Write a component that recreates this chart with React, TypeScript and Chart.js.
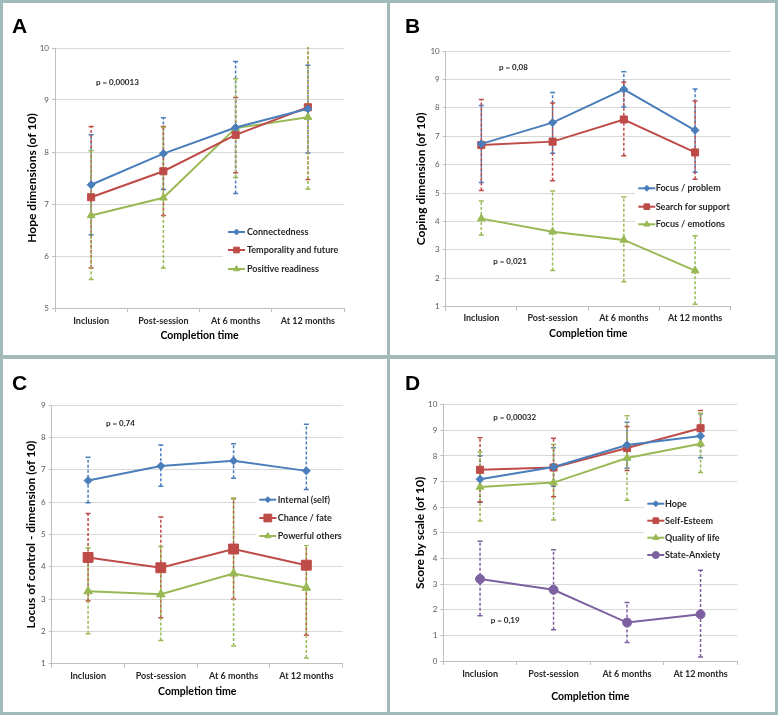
import React, { useEffect, useRef } from "react";
import { Chart, registerables } from "chart.js";

Chart.register(...registerables);

// ---------- data ----------
const categories = ["Inclusion", "Post-session", "At 6 months", "At 12 months"];

// Panel A – Hope dimensions
const hopeConnectedness = [7.37, 7.97, 8.47, 8.83];
const hopeConnectednessLow = [6.41, 7.28, 7.2, 7.98];
const hopeConnectednessHigh = [8.33, 8.66, 9.74, 9.67];
const hopeTemporality = [7.13, 7.63, 8.33, 8.86];
const hopeTemporalityLow = [5.77, 6.78, 7.6, 7.47];
const hopeTemporalityHigh = [8.49, 8.49, 9.05, 10.25];
const hopeReadiness = [6.78, 7.12, 8.46, 8.67];
const hopeReadinessLow = [5.55, 5.77, 7.51, 7.29];
const hopeReadinessHigh = [8.03, 8.47, 9.41, 10.05];

// Panel B – Coping dimensions
const copingProblem = [6.73, 7.48, 8.65, 7.21];
const copingProblemLow = [5.37, 6.4, 8.03, 5.73];
const copingProblemHigh = [8.08, 8.54, 9.27, 8.66];
const copingSupport = [6.69, 6.81, 7.59, 6.43];
const copingSupportLow = [5.09, 5.43, 6.31, 5.49];
const copingSupportHigh = [8.29, 8.17, 8.9, 8.24];
const copingEmotions = [4.1, 3.64, 3.35, 2.27];
const copingEmotionsLow = [3.52, 2.27, 1.88, 1.09];
const copingEmotionsHigh = [4.72, 5.07, 4.86, 3.5];

// Panel C – Locus of control
const locusInternal = [6.67, 7.12, 7.28, 6.97];
const locusInternalLow = [5.98, 6.49, 6.74, 6.39];
const locusInternalHigh = [7.39, 7.77, 7.81, 8.41];
const locusChance = [4.29, 3.97, 4.55, 4.05];
const locusChanceLow = [2.94, 2.42, 3.0, 1.88];
const locusChanceHigh = [5.65, 5.54, 6.11, 6.22];
const locusOthers = [3.24, 3.15, 3.79, 3.35];
const locusOthersLow = [1.93, 1.72, 1.55, 1.18];
const locusOthersHigh = [4.59, 4.63, 6.13, 4.67];

// Panel D – Score by scale
const scaleHope = [7.09, 7.57, 8.43, 8.78];
const scaleHopeLow = [6.19, 6.82, 7.52, 7.93];
const scaleHopeHigh = [8.01, 8.32, 9.32, 9.65];
const scaleEsteem = [7.46, 7.55, 8.31, 9.08];
const scaleEsteemLow = [6.2, 6.41, 7.43, 8.4];
const scaleEsteemHigh = [8.71, 8.69, 9.15, 9.77];
const scaleQuality = [6.79, 6.96, 7.92, 8.48];
const scaleQualityLow = [5.46, 5.5, 6.27, 7.35];
const scaleQualityHigh = [8.15, 8.45, 9.57, 9.67];
const scaleAnxiety = [3.2, 2.78, 1.5, 1.82];
const scaleAnxietyLow = [1.77, 1.22, 0.72, 0.16];
const scaleAnxietyHigh = [4.67, 4.34, 2.28, 3.54];

// ---------- styles ----------
const BLUE = "#4a7ebb";
const RED = "#be4b48";
const GREEN = "#98b954";
const PURPLE = "#7d60a0";
const FONT = "Lato, 'Open Sans', sans-serif";
const TEXT = "#262626";
const BORDER = "#a3baba";

type SeriesDef = {
  label: string;
  values: number[];
  low: number[];
  high: number[];
  color: string;
  style: string;
  radius: number;
  legendRadius: number;
};

type PanelDef = {
  letter: string;
  letterX: number;
  letterBase: number;
  left: number;
  top: number;
  width: number;
  height: number;
  plotLeft: number;
  plotRight: number;
  plotTop: number;
  plotBottom: number;
  yTitleX: number;
  xLabelsY: number;
  xTitleY: number;
  yMin: number;
  yMax: number;
  yTitle: string;
  notes: { text: string; x: number; y: number }[];
  legend: { lineX: number; textX: number; rows: number[]; box: [number, number, number, number] };
  series: SeriesDef[];
};

const panels: PanelDef[] = [
  {
    letter: "A", letterX: 9, letterBase: 30,
    left: 3, top: 3, width: 384, height: 352,
    plotLeft: 52, plotRight: 341, plotTop: 45, plotBottom: 305,
    yTitleX: 28.7, xLabelsY: 317.7, xTitleY: 333,
    yMin: 5, yMax: 10, yTitle: "Hope dimensions (of 10)",
    notes: [{ text: "p = 0,00013", x: 93, y: 79 }],
    legend: { lineX: 225, textX: 244, rows: [229, 247, 266], box: [220, 221, 122, 52] },
    series: [
      { label: "Connectedness", values: hopeConnectedness, low: hopeConnectednessLow, high: hopeConnectednessHigh, color: BLUE, style: "rectRot", radius: 4, legendRadius: 3 },
      { label: "Temporality and future", values: hopeTemporality, low: hopeTemporalityLow, high: hopeTemporalityHigh, color: RED, style: "rect", radius: 5, legendRadius: 4 },
      { label: "Positive readiness", values: hopeReadiness, low: hopeReadinessLow, high: hopeReadinessHigh, color: GREEN, style: "triangle", radius: 4.5, legendRadius: 3.5 },
    ],
  },
  {
    letter: "B", letterX: 15, letterBase: 30,
    left: 390, top: 3, width: 385, height: 352,
    plotLeft: 55.7, plotRight: 340.7, plotTop: 48, plotBottom: 303.7,
    yTitleX: 30.7, xLabelsY: 315.3, xTitleY: 330.3,
    yMin: 1, yMax: 10, yTitle: "Coping dimension (of 10)",
    notes: [
      { text: "p = 0,08", x: 109, y: 64 },
      { text: "p = 0,021", x: 103.3, y: 258 },
    ],
    legend: { lineX: 248.3, textX: 265.7, rows: [185.3, 203.7, 221.3], box: [245, 177, 97, 52] },
    series: [
      { label: "Focus / problem", values: copingProblem, low: copingProblemLow, high: copingProblemHigh, color: BLUE, style: "rectRot", radius: 4, legendRadius: 3 },
      { label: "Search for support", values: copingSupport, low: copingSupportLow, high: copingSupportHigh, color: RED, style: "rect", radius: 5, legendRadius: 4 },
      { label: "Focus / emotions", values: copingEmotions, low: copingEmotionsLow, high: copingEmotionsHigh, color: GREEN, style: "triangle", radius: 4.5, legendRadius: 3.5 },
    ],
  },
  {
    letter: "C", letterX: 9, letterBase: 31.3,
    left: 3, top: 359, width: 384, height: 353,
    plotLeft: 48.7, plotRight: 339.7, plotTop: 46.3, plotBottom: 304.7,
    yTitleX: 28, xLabelsY: 317.3, xTitleY: 332.3,
    yMin: 1, yMax: 9, yTitle: "Locus of control - dimension (of 10)",
    notes: [{ text: "p = 0,74", x: 103, y: 64.7 }],
    legend: { lineX: 256.3, textX: 274.7, rows: [140.7, 159, 177], box: [253, 133, 87, 53] },
    series: [
      { label: "Internal (self)", values: locusInternal, low: locusInternalLow, high: locusInternalHigh, color: BLUE, style: "rectRot", radius: 4, legendRadius: 3 },
      { label: "Chance / fate", values: locusChance, low: locusChanceLow, high: locusChanceHigh, color: RED, style: "rect", radius: 7, legendRadius: 5.5 },
      { label: "Powerful others", values: locusOthers, low: locusOthersLow, high: locusOthersHigh, color: GREEN, style: "triangle", radius: 5, legendRadius: 3.5 },
    ],
  },
  {
    letter: "D", letterX: 15, letterBase: 31.3,
    left: 390, top: 359, width: 385, height: 353,
    plotLeft: 53.3, plotRight: 347.3, plotTop: 45.7, plotBottom: 302,
    yTitleX: 30, xLabelsY: 314.7, xTitleY: 337.3,
    yMin: 0, yMax: 10, yTitle: "Score by scale (of 10)",
    notes: [
      { text: "p = 0,00032", x: 103.3, y: 58 },
      { text: "p = 0,19", x: 100.7, y: 261.3 },
    ],
    legend: { lineX: 257.3, textX: 275, rows: [144.7, 161.7, 178.7, 196], box: [254, 136, 93, 68] },
    series: [
      { label: "Hope", values: scaleHope, low: scaleHopeLow, high: scaleHopeHigh, color: BLUE, style: "rectRot", radius: 4, legendRadius: 3 },
      { label: "Self-Esteem", values: scaleEsteem, low: scaleEsteemLow, high: scaleEsteemHigh, color: RED, style: "rect", radius: 5, legendRadius: 4 },
      { label: "Quality of life", values: scaleQuality, low: scaleQualityLow, high: scaleQualityHigh, color: GREEN, style: "triangle", radius: 4.5, legendRadius: 3.5 },
      { label: "State-Anxiety", values: scaleAnxiety, low: scaleAnxietyLow, high: scaleAnxietyHigh, color: PURPLE, style: "circle", radius: 4.5, legendRadius: 3.5 },
    ],
  },
];

function drawMarker(ctx: CanvasRenderingContext2D, style: string, x: number, y: number, r: number, color: string) {
  ctx.save();
  ctx.fillStyle = color;
  ctx.strokeStyle = color;
  ctx.lineWidth = 1;
  ctx.setLineDash([]);
  ctx.beginPath();
  if (style === "rectRot") {
    ctx.moveTo(x, y - r);
    ctx.lineTo(x + r, y);
    ctx.lineTo(x, y + r);
    ctx.lineTo(x - r, y);
    ctx.closePath();
  } else if (style === "rect") {
    const s = r * Math.SQRT1_2;
    ctx.rect(x - s, y - s, 2 * s, 2 * s);
  } else if (style === "triangle") {
    let a = 0;
    ctx.moveTo(x + Math.sin(a) * r, y - Math.cos(a) * r);
    a += (2 * Math.PI) / 3;
    ctx.lineTo(x + Math.sin(a) * r, y - Math.cos(a) * r);
    a += (2 * Math.PI) / 3;
    ctx.lineTo(x + Math.sin(a) * r, y - Math.cos(a) * r);
    ctx.closePath();
  } else {
    ctx.arc(x, y, r, 0, Math.PI * 2);
  }
  ctx.fill();
  ctx.stroke();
  ctx.restore();
}

function Panel({ def }: { def: PanelDef }) {
  const ref = useRef<HTMLCanvasElement>(null);

  useEffect(() => {
    const canvas = ref.current;
    if (!canvas) return;
    const tickFont = 9;
    const xTitleFont = 10.5;
    const yTitleFont = 12;
    const padLeft = 4;
    const xScaleBottom = def.xTitleY + (xTitleFont * 1.2) / 2;
    const yTitlePad = def.yTitleX - padLeft - (yTitleFont * 1.2) / 2;
    const xTickPad = def.xLabelsY - def.plotBottom - 4 - (tickFont * 1.2) / 2;

    const decor = {
      id: "decor",
      beforeDatasetsDraw(chart: any) {
        const ctx: CanvasRenderingContext2D = chart.ctx;
        const area = chart.chartArea;
        const xs = chart.scales.x;
        const ys = chart.scales.y;
        ctx.save();
        ctx.beginPath();
        ctx.rect(area.left, area.top - 1, area.right - area.left, area.bottom - area.top + 2);
        ctx.clip();
        def.series.forEach((s) => {
          s.values.forEach((_v, i) => {
            const x = xs.getPixelForValue(i);
            const yl = ys.getPixelForValue(s.low[i]);
            const yh = ys.getPixelForValue(s.high[i]);
            ctx.strokeStyle = s.color;
            ctx.lineWidth = 1.5;
            ctx.setLineDash([3, 2]);
            ctx.beginPath();
            ctx.moveTo(x, yl);
            ctx.lineTo(x, yh);
            ctx.stroke();
            ctx.setLineDash([]);
            ctx.beginPath();
            ctx.moveTo(x - 2.5, yl);
            ctx.lineTo(x + 2.5, yl);
            ctx.moveTo(x - 2.5, yh);
            ctx.lineTo(x + 2.5, yh);
            ctx.stroke();
          });
        });
        ctx.restore();
      },
      afterDatasetsDraw(chart: any) {
        const ctx: CanvasRenderingContext2D = chart.ctx;
        ctx.save();
        // legend
        const [bx, by, bw, bh] = def.legend.box;
        ctx.fillStyle = "#ffffff";
        ctx.fillRect(bx, by, bw, bh);
        ctx.font = `bold 9px ${FONT}`;
        ctx.textBaseline = "middle";
        ctx.textAlign = "left";
        def.series.forEach((s, i) => {
          const y = def.legend.rows[i];
          ctx.strokeStyle = s.color;
          ctx.lineWidth = 2;
          ctx.beginPath();
          ctx.moveTo(def.legend.lineX, y);
          ctx.lineTo(def.legend.lineX + 17, y);
          ctx.stroke();
          drawMarker(ctx, s.style, def.legend.lineX + 8.5, y, s.legendRadius, s.color);
          ctx.fillStyle = TEXT;
          ctx.fillText(s.label, def.legend.textX, y);
        });
        // notes
        ctx.font = `bold 8px ${FONT}`;
        ctx.fillStyle = TEXT;
        def.notes.forEach((n) => ctx.fillText(n.text, n.x, n.y));
        // panel letter
        ctx.font = `bold 21px 'Liberation Sans', Arial, sans-serif`;
        ctx.fillStyle = "#000000";
        ctx.textBaseline = "alphabetic";
        ctx.fillText(def.letter, def.letterX, def.letterBase);
        ctx.restore();
      },
    };

    const chart = new Chart(canvas, {
      type: "line",
      data: {
        labels: categories,
        datasets: def.series.map((s) => ({
          label: s.label,
          data: s.values,
          borderColor: s.color,
          backgroundColor: s.color,
          borderWidth: 2,
          pointStyle: s.style as any,
          pointRadius: s.radius,
          pointBorderWidth: 1,
          pointBackgroundColor: s.color,
          pointBorderColor: s.color,
          tension: 0,
          fill: false,
        })),
      },
      options: {
        responsive: false,
        animation: false,
        devicePixelRatio: 1,
        events: [],
        layout: {
          padding: {
            left: padLeft,
            top: def.plotTop,
            right: def.width - def.plotRight,
            bottom: def.height - xScaleBottom,
          },
        },
        plugins: {
          legend: { display: false },
          tooltip: { enabled: false },
        },
        scales: {
          x: {
            type: "category",
            offset: true,
            grid: { drawOnChartArea: false, tickLength: 4, color: "#bfbfbf", offset: true },
            border: { color: "#bfbfbf", width: 1 },
            ticks: {
              font: { family: FONT, size: tickFont, weight: "bold" },
              color: TEXT,
              padding: xTickPad,
              maxRotation: 0,
              autoSkip: false,
            },
            title: {
              display: true,
              text: "Completion time",
              font: { family: FONT, size: xTitleFont, weight: "bold" },
              color: "#000000",
              padding: { top: 0, bottom: 0 },
            },
            afterFit: (scale: any) => {
              scale.height = xScaleBottom - def.plotBottom;
            },
          },
          y: {
            min: def.yMin,
            max: def.yMax,
            ticks: {
              stepSize: 1,
              font: { family: FONT, size: 8 },
              color: "#595959",
              padding: 3,
            },
            grid: { color: "#d9d9d9", tickLength: 3, tickColor: "#bfbfbf" },
            border: { color: "#bfbfbf", width: 1 },
            title: {
              display: true,
              text: def.yTitle,
              font: { family: FONT, size: yTitleFont, weight: "bold" },
              color: "#000000",
              padding: { top: yTitlePad, bottom: 0 },
            },
            afterFit: (scale: any) => {
              scale.width = def.plotLeft - padLeft;
            },
          },
        },
      },
      plugins: [decor],
    } as any);
    return () => chart.destroy();
  }, [def]);

  return (
    <div
      style={{
        position: "absolute",
        left: def.left,
        top: def.top,
        width: def.width,
        height: def.height,
        background: "#ffffff",
      }}
    >
      <canvas
        ref={ref}
        width={def.width}
        height={def.height}
        style={{ width: def.width, height: def.height, display: "block" }}
      />
    </div>
  );
}

export default function App() {
  return (
    <div
      style={{
        position: "fixed",
        left: 0,
        top: 0,
        width: 778,
        height: 715,
        background: BORDER,
        overflow: "hidden",
      }}
    >
      {panels.map((p) => (
        <Panel key={p.letter} def={p} />
      ))}
    </div>
  );
}
